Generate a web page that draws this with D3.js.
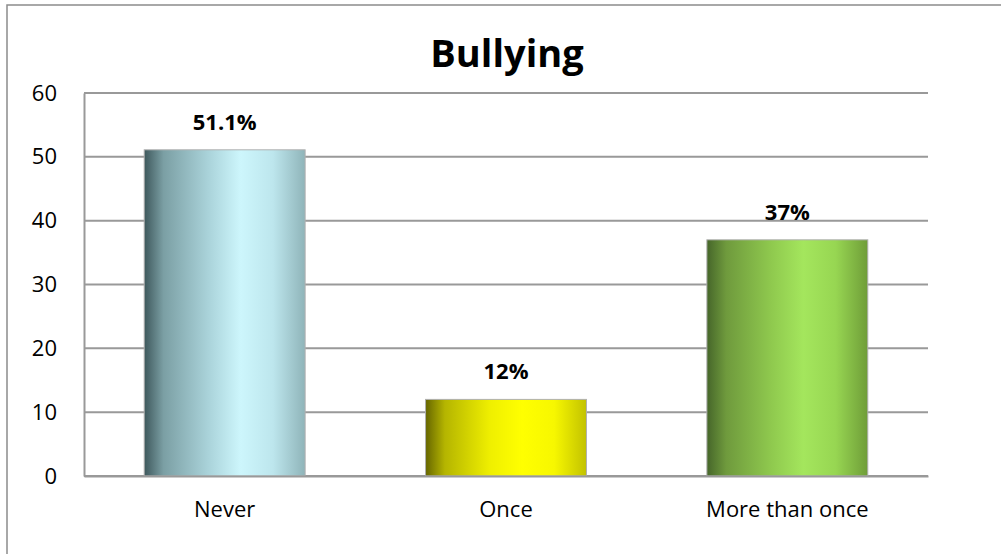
<!DOCTYPE html>
<html><head><meta charset="utf-8">
<script src="https://cdn.jsdelivr.net/npm/d3@7"></script>
<style>body{margin:0;background:#fff;}svg{display:block;}</style>
</head><body>
<svg id="c" width="1001" height="554"></svg>
<script>
const title = "Bullying";
const categories = ["Never", "Once", "More than once"];
const values = [51.1, 12, 37];
const valueLabels = ["51.1%", "12%", "37%"];
const yTicks = [0, 10, 20, 30, 40, 50, 60];
const barColors = [
  ["#3e585c", "#7b9fa4", "#aad3da", "#cdf6fc", "#bde6ed", "#8fb4b9"],
  ["#666600", "#b5b500", "#efef00", "#ffff00", "#f7f700", "#c2c200"],
  ["#46662a", "#6f9a3d", "#8fc94e", "#a4e65d", "#97d652", "#6f9d38"]
];

const svg = d3.select("#c");
const font = "'Open Sans', sans-serif";
const m = {l: 84, r: 928, t: 93, b: 476};

const x = d3.scaleBand().domain(categories).range([m.l, m.r]).paddingInner(0.428).paddingOuter(0.214);
const y = d3.scaleLinear().domain([0, 60]).range([m.b, m.t]);

// frame
svg.append("rect").attr("x", 7).attr("y", 5).attr("width", 1010).attr("height", 560)
  .attr("fill", "none").attr("stroke", "#8c8c8c").attr("stroke-width", 1.5);

// gradients
const defs = svg.append("defs");
barColors.forEach((cols, i) => {
  const g = defs.append("linearGradient").attr("id", "g" + i).attr("x1", 0).attr("x2", 1).attr("y1", 0).attr("y2", 0);
  const offs = [0, 0.12, 0.4, 0.6, 0.8, 1];
  cols.forEach((c, j) => g.append("stop").attr("offset", offs[j]).attr("stop-color", c));
});

// grid
svg.append("g").selectAll("line").data(yTicks).join("line")
  .attr("x1", m.l).attr("x2", m.r).attr("y1", d => y(d)).attr("y2", d => y(d))
  .attr("stroke", "#999").attr("stroke-width", 2);

// y axis
const yAxis = svg.append("g").attr("transform", `translate(${m.l},0)`)
  .call(d3.axisLeft(y).tickValues(yTicks).tickSize(0).tickPadding(27));
yAxis.select(".domain").attr("stroke", "#999").attr("stroke-width", 2);
yAxis.selectAll("text").attr("font-family", font).attr("font-size", 22).attr("fill", "#000");

// bars
svg.append("g").selectAll("rect").data(values).join("rect")
  .attr("x", (d, i) => x(categories[i])).attr("width", x.bandwidth())
  .attr("y", d => y(d)).attr("height", d => y(0) - y(d))
  .attr("fill", (d, i) => `url(#g${i})`).attr("stroke", "#b0b0b0").attr("stroke-width", 1);

// x axis
const xAxis = svg.append("g").attr("transform", `translate(0,${m.b})`)
  .call(d3.axisBottom(x).tickSize(0).tickPadding(25));
xAxis.select(".domain").attr("stroke", "#999").attr("stroke-width", 2);
xAxis.selectAll("text").attr("font-family", font).attr("font-size", 22).attr("fill", "#000");

// value labels
svg.append("g").selectAll("text").data(values).join("text")
  .attr("x", (d, i) => x(categories[i]) + x.bandwidth() / 2)
  .attr("y", d => y(d) - 20)
  .attr("text-anchor", "middle").attr("font-family", font).attr("font-weight", "bold")
  .attr("font-size", 22).text((d, i) => valueLabels[i]);

// title
svg.append("text").attr("x", 507).attr("y", 67).attr("text-anchor", "middle")
  .attr("font-family", font).attr("font-weight", "bold").attr("font-size", 38).text(title);
</script>
</body></html>
